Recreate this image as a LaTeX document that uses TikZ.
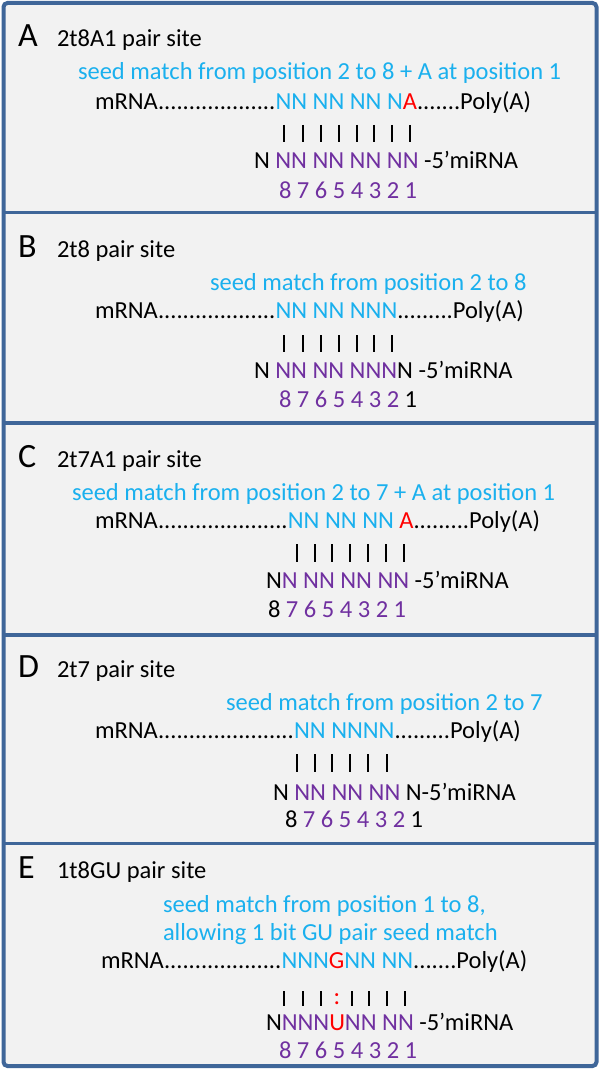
\documentclass[tikz,border=0pt]{standalone}
\usepackage{fontspec}
\setmainfont{Carlito}
\definecolor{seedblue}{HTML}{1AB0EE}
\definecolor{mirpurple}{HTML}{7030A0}
\definecolor{gured}{HTML}{FF0000}
\definecolor{frameblue}{HTML}{3F6699}
\definecolor{panelbg}{HTML}{F2F2F2}
\newcommand\bodyfnt{\fontsize{24.5}{29}\selectfont}
\newcommand\ttlfnt{\fontsize{24.5}{29}\selectfont}
\newcommand\labfnt{\fontsize{34}{36}\selectfont}
\newcommand\seedc[1]{\textcolor{seedblue}{#1}}
\newcommand\mirc[1]{\textcolor{mirpurple}{#1}}
\newcommand\redc[1]{\textcolor{gured}{#1}}
\newcount\dcnt
\newcommand\rdots[1]{\dcnt=#1\relax\loop\ifnum\dcnt>0 .\advance\dcnt by -1\repeat}
\begin{document}
\begin{tikzpicture}[x=1pt,y=-1pt,
  txt/.style={anchor=base west,inner sep=0pt,outer sep=0pt,font=\bodyfnt},
  ttl/.style={anchor=base west,inner sep=0pt,outer sep=0pt,font=\ttlfnt},
  lab/.style={anchor=base west,inner sep=0pt,outer sep=0pt,font=\labfnt},
  seedtxt/.style={txt,text=seedblue},
  pairbar/.style={line width=1.2pt,black},
]
\useasboundingbox (0,0) rectangle (600,1070);
\fill[white] (0,0) rectangle (600,1070);
\draw[frameblue,line width=4pt,fill=panelbg,rounded corners=4pt] (3.5,3) rectangle (596.5,1066);
\foreach \yy in {212.5,423,635,843.5} \draw[frameblue,line width=3.8pt] (3.5,\yy) -- (596.5,\yy);

% ---------- Panel A ----------
\node[lab] (Alab) at (18,47) {A};
\node[ttl] (Attl) at (57,47) {2t8A1 pair site};
\node[seedtxt] (Aseed) at (78,80) {seed match from position 2 to 8 + A at position 1};
\node[txt] (Amrna) at (95,110) {mRNA\rdots{19}\seedc{NN NN NN N}\redc{A}\rdots{7}Poly(A)};
\foreach \xx in {284,303,321,339,357,374,392,410} \draw[pairbar] (\xx,125) -- (\xx,142);
\node[txt] (Amir) at (254,168) {N \mirc{NN NN NN NN} -5’miRNA};
\node[txt] (Anum) at (279,198) {\mirc{8 7 6 5 4 3 2 1}};

% ---------- Panel B ----------
\node[lab] (Blab) at (18,257) {B};
\node[ttl] (Bttl) at (57,257) {2t8 pair site};
\node[seedtxt] (Bseed) at (210,290) {seed match from position 2 to 8};
\node[txt] (Bmrna) at (95,318) {mRNA\rdots{19}\seedc{NN NN NNN}\rdots{9}Poly(A)};
\foreach \xx in {284,303,321,339,357,374,392} \draw[pairbar] (\xx,335) -- (\xx,352);
\node[txt] (Bmir) at (254,378) {N \mirc{NN NN NNN}N -5’miRNA};
\node[txt] (Bnum) at (279,407) {\mirc{8 7 6 5 4 3 2} 1};

% ---------- Panel C ----------
\node[lab] (Clab) at (18,467) {C};
\node[ttl] (Cttl) at (57,467) {2t7A1 pair site};
\node[seedtxt] (Cseed) at (72,500) {seed match from position 2 to 7 + A at position 1};
\node[txt] (Cmrna) at (95,528) {mRNA\rdots{21}\seedc{NN NN NN }\redc{A}\rdots{9}Poly(A)};
\foreach \xx in {297,315,332,350,368,386,404} \draw[pairbar] (\xx,544) -- (\xx,562);
\node[txt] (Cmir) at (266,588) {N\mirc{N NN NN NN} -5’miRNA};
\node[txt] (Cnum) at (268,617) {8 \mirc{7 6 5 4 3 2 1}};

% ---------- Panel D ----------
\node[lab] (Dlab) at (18,677) {D};
\node[ttl] (Dttl) at (57,677) {2t7 pair site};
\node[seedtxt] (Dseed) at (226,710) {seed match from position 2 to 7};
\node[txt] (Dmrna) at (95,738) {mRNA\rdots{22}\seedc{NN NNNN}\rdots{9}Poly(A)};
\foreach \xx in {297,315,332,350,368,387} \draw[pairbar] (\xx,754) -- (\xx,772);
\node[txt] (Dmir) at (273,800) {N \mirc{NN NN NN} N-5’miRNA};
\node[txt] (Dnum) at (285,827) {8 \mirc{7 6 5 4 3 2} 1};

% ---------- Panel E ----------
\node[lab] (Elab) at (18,878) {E};
\node[ttl] (Ettl) at (57,878) {1t8GU pair site};
\node[seedtxt] (Eseed1) at (163,912) {seed match from position 1 to 8,};
\node[seedtxt] (Eseed2) at (163,940) {allowing 1 bit GU pair seed match};
\node[txt] (Emrna) at (101,968) {mRNA\rdots{19}\seedc{NNN}\redc{G}\seedc{NN NN}\rdots{7}Poly(A)};
\foreach \xx in {284,303,321,352,369,387,405} \draw[pairbar] (\xx,991) -- (\xx,1006);
\node[txt,text=gured,anchor=base] (Ecolon) at (337,1004) {:};
\node[txt] (Emir) at (266,1030) {N\mirc{NNN}\redc{U}\mirc{NN NN} -5’miRNA};
\node[txt] (Enum) at (279,1058) {\mirc{8 7 6 5 4 3 2 1}};
\end{tikzpicture}
\end{document}
